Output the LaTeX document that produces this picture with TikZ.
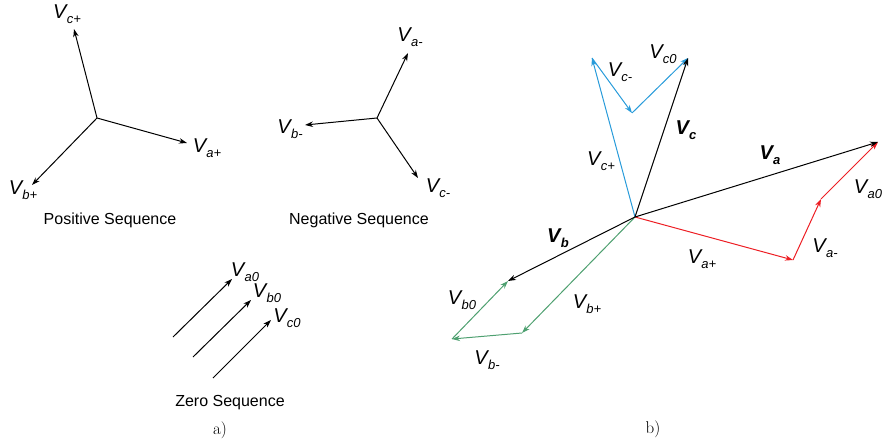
\documentclass[tikz,border=0pt]{standalone}
\usepackage{fontspec}
\setsansfont{Liberation Sans}
\usetikzlibrary{arrows.meta}

\definecolor{phred}{RGB}{237,30,36}
\definecolor{phblue}{RGB}{40,155,218}
\definecolor{phgreen}{RGB}{78,160,112}

% phasor label: italic V with lowered subscript
\newcommand{\phv}[1]{\fontsize{20}{20}\selectfont V\kern0.3pt\raisebox{-4.5pt}{\fontsize{13}{13}\selectfont #1}}
\newcommand{\phvb}[1]{\bfseries\phv{#1}}

\begin{document}
\begin{tikzpicture}[x=1pt, y=-1pt, >={Stealth[length=8pt,width=5.5pt]},
        phasor/.style={->, line width=1pt},
        lbl/.style={inner sep=0pt, font=\sffamily\itshape},
        caption/.style={inner sep=0pt, font=\sffamily\fontsize{16}{16}\selectfont},
        sublabel/.style={inner sep=0pt, font=\fontsize{17}{17}\selectfont}]
    \useasboundingbox (0,0) rectangle (884,444);

    % positive sequence
    \coordinate (pos) at (97,118);
    \coordinate (vcp) at (74,29);
    \coordinate (vap) at (187,143);
    \coordinate (vbp) at (32,185);
    \draw[phasor] (pos) -- (vcp);
    \draw[phasor] (pos) -- (vap);
    \draw[phasor] (pos) -- (vbp);
    \node[lbl] (lvcp) at (67,14) {\phv{c+}};
    \node[lbl] (lvap) at (207,148) {\phv{a+}};
    \node[lbl] (lvbp) at (23,190) {\phv{b+}};
    \node[caption] (tpos) at (110,220) {Positive Sequence};

    % negative sequence
    \coordinate (neg) at (377,118);
    \coordinate (vam) at (408,53);
    \coordinate (vbm) at (305,125);
    \coordinate (vcm) at (418,178);
    \draw[phasor] (neg) -- (vam);
    \draw[phasor] (neg) -- (vbm);
    \draw[phasor] (neg) -- (vcm);
    \node[lbl] (lvam) at (410,37) {\phv{a-}};
    \node[lbl] (lvbm) at (290,129) {\phv{b-}};
    \node[lbl] (lvcm) at (438,188) {\phv{c-}};
    \node[caption] (tneg) at (359,220) {Negative Sequence};

    % zero sequence
    \coordinate (za1) at (173,337);
    \coordinate (za2) at (232,279);
    \coordinate (zb1) at (193,357);
    \coordinate (zb2) at (251,300);
    \coordinate (zc1) at (213,378);
    \coordinate (zc2) at (271,320);
    \draw[phasor] (za1) -- (za2);
    \draw[phasor] (zb1) -- (zb2);
    \draw[phasor] (zc1) -- (zc2);
    \node[lbl] (lva0) at (245,272) {\phv{a0}};
    \node[lbl] (lvb0) at (267,293) {\phv{b0}};
    \node[lbl] (lvc0) at (287,318) {\phv{c0}};
    \node[caption] (tzero) at (230,403) {Zero Sequence};
    \node[sublabel] (capa) at (220,430) {a)};

    % b) phasor sums
    \coordinate (O) at (635,217);
    \coordinate (va) at (878,142);
    \coordinate (vb) at (508,281);
    \coordinate (vc) at (688,58);
    \coordinate (ra) at (793,260);
    \coordinate (rb) at (821,199);
    \coordinate (bca) at (592,58);
    \coordinate (bcb) at (632,113);
    \coordinate (gba) at (522,333);
    \coordinate (gbb) at (452,339);

    \draw[phasor, phred] (O) -- (ra);
    \draw[phasor, phred] (ra) -- (rb);
    \draw[phasor, phred] (rb) -- (va);
    \draw[phasor, phblue] (O) -- (bca);
    \draw[phasor, phblue] (bca) -- (bcb);
    \draw[phasor, phblue] (bcb) -- (vc);
    \draw[phasor, phgreen] (O) -- (gba);
    \draw[phasor, phgreen] (gba) -- (gbb);
    \draw[phasor, phgreen] (gbb) -- (vb);

    \draw[phasor] (O) -- (va);
    \draw[phasor] (O) -- (vb);
    \draw[phasor] (O) -- (vc);

    \node[lbl] (lva) at (770,155) {\phvb{a}};
    \node[lbl] (lvb) at (558,238) {\phvb{b}};
    \node[lbl] (lvc) at (686,130) {\phvb{c}};
    \node[lbl] (lrap) at (702,259) {\phv{a+}};
    \node[lbl] (lram) at (825,248) {\phv{a-}};
    \node[lbl] (lra0) at (868,189) {\phv{a0}};
    \node[lbl] (lbcp) at (601,161) {\phv{c+}};
    \node[lbl] (lbcm) at (620,72) {\phv{c-}};
    \node[lbl] (lbc0) at (663,54) {\phv{c0}};
    \node[lbl] (lgbp) at (587,304) {\phv{b+}};
    \node[lbl] (lgbm) at (487,360) {\phv{b-}};
    \node[lbl] (lgb0) at (462,300) {\phv{b0}};
    \node[sublabel] (capb) at (653,429) {b)};
\end{tikzpicture}
\end{document}
